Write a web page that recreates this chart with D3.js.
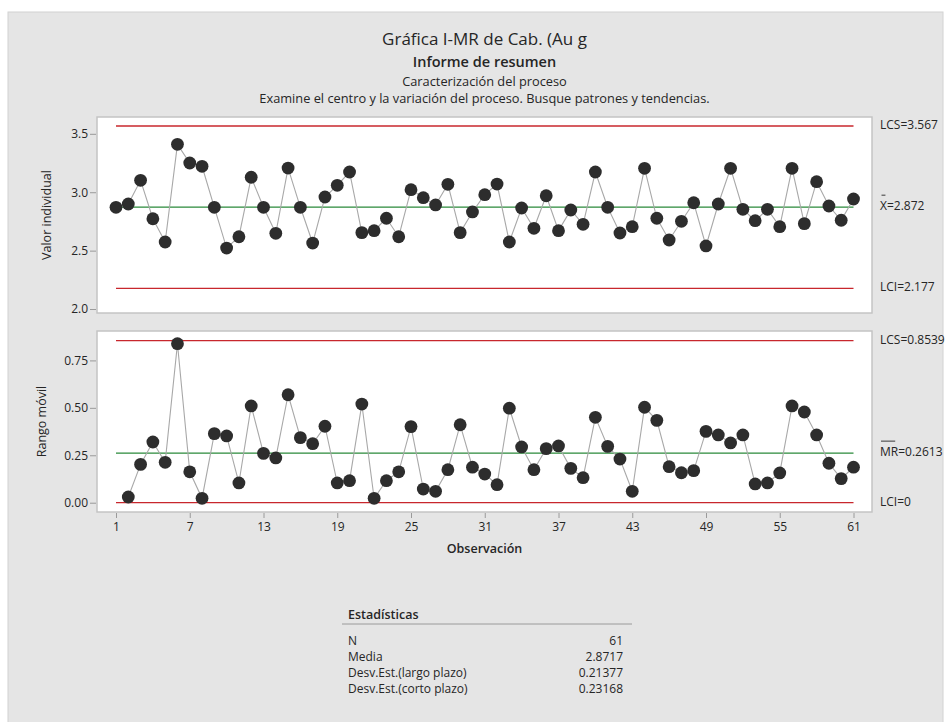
<!DOCTYPE html>
<html><head><meta charset="utf-8">
<script src="https://cdn.jsdelivr.net/npm/d3@7"></script>
<style>
html,body{margin:0;padding:0;background:#fff;}
svg{display:block;font-family:"Open Sans","Noto Sans",sans-serif;}
</style></head>
<body><svg id="c" width="952" height="722"></svg>
<script>
// ---- data ----
const observations = d3.range(1, 62);
const individualValues = [
 2.871,2.899,3.102,2.773,2.574,3.410,3.250,3.222,2.871,2.522,
 2.619,3.128,2.871,2.648,3.207,2.871,2.565,2.959,3.059,3.173,
 2.654,2.671,2.777,2.619,3.022,2.953,2.891,3.068,2.654,2.831,
 2.979,3.070,2.574,2.865,2.691,2.970,2.671,2.848,2.725,3.173,
 2.871,2.651,2.705,3.205,2.777,2.591,2.751,2.910,2.540,2.899,
 3.205,2.854,2.756,2.854,2.705,3.205,2.731,3.090,2.882,2.760,2.942];
// moving range values (observation 2..61)
const movingRangeValues = [
 0.030,0.202,0.320,0.213,0.838,0.163,0.023,0.364,0.352,
 0.104,0.510,0.260,0.236,0.569,0.343,0.311,0.403,0.104,0.116,
 0.520,0.023,0.116,0.163,0.401,0.072,0.060,0.174,0.411,0.187,
 0.151,0.095,0.498,0.294,0.174,0.285,0.299,0.181,0.132,0.450,
 0.297,0.230,0.060,0.503,0.434,0.190,0.158,0.169,0.376,0.357,
 0.315,0.357,0.099,0.104,0.157,0.510,0.478,0.357,0.208,0.127,0.187];
const iLimits = {ucl:3.567, center:2.872, lcl:2.177};
const mrLimits = {ucl:0.8539, center:0.2613, lcl:0};
const iTicks = [2.0,2.5,3.0,3.5];
const mrTicks = [0,0.25,0.5,0.75];
const xTicks = [1,7,13,19,25,31,37,43,49,55,61];
const statLabels = ["N","Media","Desv.Est.(largo plazo)","Desv.Est.(corto plazo)"];
const statValues = ["61","2.8717","0.21377","0.23168"];

// ---- drawing ----
const svg = d3.select("#c");
svg.append("rect").attr("x",8).attr("y",12).attr("width",935).attr("height",712)
  .attr("fill","#e5e5e5").attr("stroke","#d2d2d2");

const TXT="#262626";
const cx = 484.5;
function t(x,y,s,size,weight,anchor){
  return svg.append("text").attr("x",x).attr("y",y).text(s)
   .attr("font-size",size).attr("font-weight",weight||400)
   .attr("text-anchor",anchor||"middle").attr("fill",TXT);
}
t(cx,45,"Gráfica I-MR de Cab. (Au g",17,400);
t(cx,66.5,"Informe de resumen",14.5,600);
t(cx,85.5,"Caracterización del proceso",12.8,400);
t(cx,103,"Examine el centro y la variación del proceso. Busque patrones y tendencias.",12.8,400);

const box = {l:97, r:872};
const panels = [
  {top:117,bottom:313,dom:[1.966,3.644],vals:individualValues,xs:observations,
   lim:iLimits,ticks:iTicks,fmt:d3.format(".1f"),title:"Valor individual",titleX:51,
   labels:["LCS=3.567","X=2.872","LCI=2.177"],bar:[0,1],ins:[1.5,1.5]},
  {top:331,bottom:512,dom:[-0.049,0.905],vals:movingRangeValues,xs:observations.slice(1),
   lim:mrLimits,ticks:mrTicks,fmt:d3.format(".2f"),title:"Rango móvil",titleX:46,
   labels:["LCS=0.8539","MR=0.2613","LCI=0"],bar:[0,2],ins:[1,3]}
];
const x = d3.scaleLinear().domain([1,61]).range([116,853.5]);

panels.forEach((p,pi)=>{
  const y = d3.scaleLinear().domain(p.dom).range([p.bottom,p.top]);
  svg.append("rect").attr("x",box.l).attr("y",p.top).attr("width",box.r-box.l)
    .attr("height",p.bottom-p.top).attr("fill","#fff").attr("stroke","#c4c4c4").attr("stroke-width",1.5);
  // y axis
  const ax = svg.append("g").attr("transform",`translate(${box.l-1},0)`)
    .call(d3.axisLeft(y).tickValues(p.ticks).tickFormat(p.fmt).tickSize(6).tickPadding(2));
  ax.select(".domain").remove();
  ax.selectAll("line").attr("stroke","#9a9a9a");
  ax.selectAll("text").attr("font-size",12).attr("fill",TXT).attr("font-family","Open Sans, Noto Sans, sans-serif");
  // y title
  svg.append("text").attr("transform",`translate(${p.titleX},${(p.top+p.bottom)/2}) rotate(-90)`)
    .attr("text-anchor","middle").attr("font-size",12.5).attr("fill",TXT).text(p.title);
  // limit lines
  const lims = [[p.lim.ucl,"#c8272d"],[p.lim.center,"#2a8a3a"],[p.lim.lcl,"#c8272d"]];
  lims.forEach(([v,c])=>{
    svg.append("line").attr("x1",x(1)).attr("x2",x(61)).attr("y1",y(v)).attr("y2",y(v))
      .attr("stroke",c).attr("stroke-width",1.3);
  });
  // series line
  const pts = p.vals.map((v,i)=>[p.xs[i],v]);
  svg.append("path").datum(pts).attr("fill","none").attr("stroke","#a8a8a8").attr("stroke-width",1.1)
    .attr("d",d3.line().x(d=>x(d[0])).y(d=>y(d[1])));
  svg.append("g").selectAll("circle").data(pts).join("circle")
    .attr("cx",d=>x(d[0])).attr("cy",d=>y(d[1])).attr("r",6.4).attr("fill","#2d2d2d");
  // right labels
  lims.forEach(([v],k)=>{
    const tx = svg.append("text").attr("x",880).attr("y",y(v)-1.5).attr("dominant-baseline","central")
      .attr("font-size",12).attr("fill",TXT).text(p.labels[k]);
    if(k===1){
      const node = tx.node();
      const x0 = node.getStartPositionOfChar(p.bar[0]).x;
      const x1 = node.getEndPositionOfChar(p.bar[1]-1).x;
      svg.append("line").attr("x1",x0+p.ins[0]).attr("x2",x1-p.ins[1])
        .attr("y1",y(v)-12).attr("y2",y(v)-12).attr("stroke",TXT).attr("stroke-width",0.9);
    }
  });
  if(pi===1){
    const xa = svg.append("g").attr("transform",`translate(0,${p.bottom+1})`)
      .call(d3.axisBottom(x).tickValues(xTicks).tickFormat(d3.format("d")).tickSize(5).tickPadding(4));
    xa.select(".domain").remove();
    xa.selectAll("line").attr("stroke","#9a9a9a");
    xa.selectAll("text").attr("font-size",12).attr("fill",TXT).attr("font-family","Open Sans, Noto Sans, sans-serif");
  }
});
t(cx,553,"Observación",12.5,600);

// stats table
t(348,619,"Estadísticas",12.5,600,"start");
svg.append("line").attr("x1",342).attr("x2",632).attr("y1",624).attr("y2",624).attr("stroke","#9a9a9a");
statLabels.forEach((s,i)=>{
  t(348,645+i*16,s,12,400,"start");
  t(623,645+i*16,statValues[i],12,400,"end");
});
</script></body></html>
